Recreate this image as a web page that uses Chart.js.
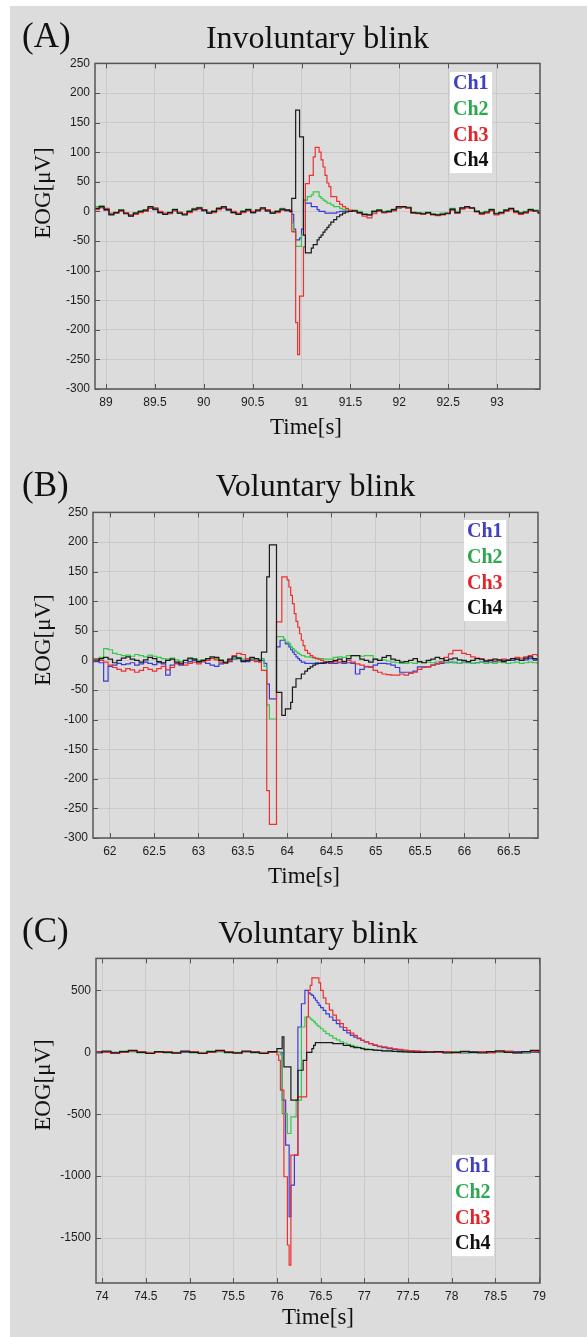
<!DOCTYPE html>
<html>
<head>
<meta charset="utf-8">
<script src="https://cdn.jsdelivr.net/npm/chart.js@4.4.0/dist/chart.umd.min.js"></script>
<style>
  html, body { margin: 0; padding: 0; background: #fff; }
  body { width: 587px; height: 1337px; position: relative; overflow: hidden; }
  #sheet { position: absolute; left: 10px; top: 6px; right: 0; bottom: 0; background: #dcdcdc; }
  canvas { position: absolute; left: 10px; }
</style>
</head>
<body>
<div id="sheet"></div>
<canvas id="chartA" width="577" height="443" style="top:6px"></canvas>
<canvas id="chartB" width="577" height="443" style="top:449px"></canvas>
<canvas id="chartC" width="577" height="445" style="top:892px"></canvas>
<script>
// channel names and colours
const channels = ["Ch1", "Ch2", "Ch3", "Ch4"];
const lineColors = ["#3a3ad8", "#35c94c", "#ee2f2f", "#1a1a1a"];
const legendColors = ["#4040c0", "#2ea84f", "#e0252b", "#111111"];

// (A) involuntary blink
const timeA = [88.88, 88.93, 88.98, 89.03, 89.08, 89.13, 89.18, 89.23, 89.28, 89.33, 89.38, 89.43, 89.48, 89.53, 89.58, 89.63, 89.68, 89.73, 89.78, 89.83, 89.88, 89.93, 89.98, 90.03, 90.08, 90.13, 90.18, 90.23, 90.28, 90.33, 90.38, 90.43, 90.48, 90.53, 90.58, 90.63, 90.68, 90.73, 90.78, 90.83, 90.88,
  90.90, 90.92, 90.94, 90.96, 90.98, 91.00, 91.02, 91.04, 91.06, 91.08, 91.10, 91.12, 91.14, 91.16, 91.18, 91.20, 91.22, 91.24, 91.26, 91.28, 91.30, 91.33, 91.36, 91.39, 91.42, 91.45, 91.48,
  91.52, 91.57, 91.62, 91.67, 91.72, 91.77, 91.82, 91.87, 91.92, 91.97, 92.02, 92.07, 92.12, 92.17, 92.22, 92.27, 92.32, 92.37, 92.42, 92.47, 92.52, 92.57, 92.62, 92.67, 92.72, 92.77, 92.82, 92.87, 92.92, 92.97, 93.02, 93.07, 93.12, 93.17, 93.22, 93.27, 93.32, 93.37, 93.42, 93.47];
const ch1A = [4, 7, 2, -5, -2, 1, -3, -7, -3, -1, 1, 6, 3, -2, -4, -2, 2, -3, -5, -1, 3, 5, 1, -3, -1, 4, 6, 2, -2, -4, -1, 2, -2, 1, 5, 1, -3, -1, 3, 1, -1,
  -5, -30, -48, -48, -45, -30, 19, 14, 14, 14, 8, 8, 8, 3, 0, 0, 0, -3, -3, -3, -3, -3, -1, 0, 0, 1, 0,
  0, -2, -5, -6, -1, 1, -2, -1, 2, 6, 7, 5, -2, -3, -4, -2, -5, -6, -4, -3, 3, -2, 5, 7, 5, 0, -3, -1, 2, -4, -2, 1, 4, 0, -3, -2, 2, 1, -2, 0];
const ch2A = [8, 10, 4, -3, -1, 3, -2, -6, -2, 1, 3, 7, 5, -1, -4, -1, 4, -2, -5, 1, 5, 7, 3, -2, 1, 6, 7, 4, -1, -4, 1, 4, -1, 3, 5, 2, -2, 1, 5, 3, 1,
  -20, -35, -59, -59, -59, -40, 19, 19, 25, 25, 28, 33, 33, 33, 25, 22, 19, 17, 14, 14, 11, 8, 8, 5, 3, 2, 0,
  2, 0, -4, -5, 1, 3, 0, 1, 4, 6, 7, 6, -1, -2, -3, -1, -4, -5, -3, -2, 5, 0, 6, 7, 5, 1, -2, 0, 4, -3, -1, 3, 4, 1, -2, 0, 4, 2, -1, 1];
const ch3A = [3, 6, 5, -4, -3, 0, -2, -6, -5, -2, 0, 5, 6, 0, -3, -4, 1, -1, -4, -2, 2, 4, 3, -1, -2, 3, 6, 4, 0, -3, -2, 1, 0, 1, 4, 3, -1, -2, 2, 3, 1,
  -34, -34, -188, -242, -143, -143, -60, 47, 47, 61, 61, 92, 108, 108, 100, 87, 75, 61, 48, 42, 25, 25, 17, 12, 8, 5, 2,
  0, -3, -8, -11, -4, 0, -2, -1, 1, 6, 7, 5, -3, -4, -5, -3, -6, -7, -6, -3, 2, -3, 4, 6, 5, -1, -5, -3, 1, -6, -4, 0, 3, -2, -5, -3, 1, 0, -3, -1];
const ch4A = [5, 8, 3, -6, -2, 2, -4, -8, -3, 0, 2, 8, 4, -2, -5, -2, 3, -3, -6, 0, 4, 6, 2, -3, 0, 5, 8, 3, -2, -5, 0, 3, -2, 2, 6, 1, -3, 0, 4, 2, 0,
  22, 22, 171, 171, 126, 126, -40, -70, -70, -70, -62, -56, -56, -48, -44, -40, -35, -31, -27, -23, -18, -14, -9, -6, -3, -1, 0,
  1, -2, -5, -6, 0, 2, -1, 0, 3, 8, 8, 7, -2, -3, -4, -2, -5, -6, -5, -4, 4, -2, 6, 8, 6, 0, -3, -1, 3, -4, -2, 2, 5, 0, -3, -1, 3, 1, -2, 0];
const xTicksA = [89, 89.5, 90, 90.5, 91, 91.5, 92, 92.5, 93];
const yTicksA = [250, 200, 150, 100, 50, 0, -50, -100, -150, -200, -250, -300];

// (B) voluntary blink
const timeB = [61.78, 61.83, 61.88, 61.93, 61.98, 62.03, 62.08, 62.13, 62.18, 62.23, 62.28, 62.33, 62.38, 62.43, 62.48, 62.53, 62.58, 62.63, 62.68, 62.73, 62.78, 62.83, 62.88, 62.93, 62.98, 63.03, 63.08, 63.13, 63.18, 63.23, 63.28, 63.33, 63.38, 63.43, 63.48, 63.53, 63.58, 63.63, 63.68,
  63.71, 63.74, 63.77, 63.80, 63.83, 63.86, 63.88, 63.90, 63.92, 63.94, 63.96, 63.98, 64.00, 64.02, 64.04, 64.06, 64.08, 64.10, 64.12, 64.14, 64.16, 64.18, 64.20, 64.23, 64.26, 64.29, 64.32, 64.35, 64.38, 64.41, 64.44, 64.47,
  64.52, 64.57, 64.62, 64.67, 64.72, 64.77, 64.82, 64.87, 64.92, 64.97, 65.02, 65.07, 65.12, 65.17, 65.22, 65.27, 65.32, 65.37, 65.42, 65.47, 65.52, 65.57, 65.62, 65.67, 65.72, 65.77, 65.82, 65.87, 65.92, 65.97, 66.02, 66.07, 66.12, 66.17, 66.22, 66.27, 66.32, 66.37, 66.42, 66.47, 66.52, 66.57, 66.62, 66.67, 66.72, 66.77, 66.82, 66.87];
const ch1B = [-2, -2, -4, -35, -10, -8, -5, -7, -6, -4, -8, -6, -3, -5, -7, -4, -6, -25, -8, -5, -8, -4, -2, 0, -3, -2, -5, -8, -10, -6, -4, -2, 2, 3, 0, -2, 1, 0, -2,
  0, -5, -40, -65, -65, -65, 23, 23, 34, 34, 34, 28, 28, 23, 18, 14, 10, 6, 3, 0, -3, -3, -5, -5, -5, -5, -4, -5, -4, -5, -4, -5,
  -5, -4, -5, -4, -5, -23, -15, -11, -11, -8, -5, -5, -6, -8, -12, -20, -20, -20, -18, -11, -11, -11, -8, -6, -5, -4, -3, -4, -5, -3, -4, -5, -4, -3, -2, -3, -2, -1, 0, 1, 0, 2, 0, 1, 3, 2, 0, 1];
const ch2B = [3, 3, 5, 20, 18, 12, 10, 8, 9, 7, 10, 8, 6, 9, 7, 5, 3, 2, 4, 1, -2, 0, 2, 3, 0, 1, 2, 4, 3, 1, -2, 0, 3, 5, 2, 0, 3, 1, 0,
  3, -10, -75, -99, -99, -99, 40, 40, 40, 40, 36, 31, 31, 28, 23, 20, 17, 14, 12, 10, 8, 8, 6, 6, 5, 4, 4, 3, 3, 2, 2, 2,
  5, 6, 5, 8, 8, 8, 7, 8, 8, 2, 0, 1, -1, -3, -4, -5, -5, -4, -5, -3, -4, -3, -4, -3, -2, -3, -4, -3, -5, -4, -3, -5, -4, -3, -5, -4, -5, -3, -4, -5, -4, -3, -5, -4, -3, -4, -5, -3];
const ch3B = [2, 2, 0, -3, -8, -12, -15, -18, -14, -16, -20, -17, -12, -15, -18, -14, -10, -16, -12, -6, -4, -8, -5, -3, -6, -2, 0, 3, 1, -3, -5, 0, 8, 12, 10, 3, 0, -2, -3,
  -17, -17, -220, -277, -277, -277, 65, 65, 65, 141, 141, 141, 136, 124, 110, 96, 79, 66, 56, 45, 34, 25, 17, 12, 8, 5, 3, 2, 0, -2, -3, -4,
  -2, -3, -2, 0, -3, -6, -8, -10, -12, -17, -20, -23, -24, -25, -25, -23, -25, -22, -20, -15, -12, -11, -8, -6, -3, 5, 11, 17, 17, 12, 10, 6, 4, 2, 0, 1, -1, 0, 2, 0, 3, 5, 4, 6, 8, 10, 8, 10];
const ch4B = [0, 0, 3, 5, 2, -4, 0, 4, 6, 2, 0, -3, 1, 5, 3, -2, -4, 0, 2, -3, -6, 0, 4, 2, -2, 0, 3, 6, 5, 0, -4, 2, 6, 4, -2, 0, 5, 3, 0,
  14, 14, 141, 195, 195, 195, -54, -54, -54, -93, -93, -82, -82, -82, -71, -45, -45, -31, -31, -31, -23, -23, -18, -14, -11, -8, -6, -5, -5, -4, -3, -2,
  0, 2, -2, 3, 8, 8, 2, 0, -3, 2, 0, 5, 8, 2, 0, -3, -2, 0, 3, -2, -4, 0, 2, 5, 3, 0, 2, 4, 1, 0, -2, 0, 3, 2, -1, 0, 2, 1, -2, 0, 3, 2, 0, 4, 6, 3, 2, 5];
const xTicksB = [62, 62.5, 63, 63.5, 64, 64.5, 65, 65.5, 66, 66.5];
const yTicksB = [250, 200, 150, 100, 50, 0, -50, -100, -150, -200, -250, -300];

// (C) voluntary blink, larger amplitude
const timeC = [73.90, 74.00, 74.10, 74.20, 74.30, 74.40, 74.50, 74.60, 74.70, 74.80, 74.90, 75.00, 75.10, 75.20, 75.30, 75.40, 75.50, 75.60, 75.70, 75.80, 75.90,
  76.00, 76.02, 76.04, 76.06, 76.08, 76.10, 76.12, 76.14, 76.16, 76.18, 76.20, 76.22, 76.24, 76.26, 76.28, 76.30, 76.32, 76.34, 76.36, 76.38, 76.40, 76.42, 76.44, 76.46, 76.48, 76.50, 76.53, 76.56, 76.60, 76.64, 76.68, 76.72, 76.76, 76.80, 76.84, 76.88, 76.92, 76.96, 77.00, 77.05, 77.10, 77.15, 77.20, 77.26, 77.32, 77.38, 77.44, 77.50, 77.57, 77.64,
  77.70, 77.80, 77.90, 78.00, 78.10, 78.20, 78.30, 78.40, 78.50, 78.60, 78.70, 78.80, 78.90, 79.00, 79.10];
const ch1C = [-5, 5, 0, 5, 10, 0, -5, 0, 5, -5, 0, 5, -5, 0, 10, 0, -5, 5, 0, -5, 0,
  0, 0, 0, -387, -387, -750, -750, -1328, -1072, -1072, -830, -830, 204, 204, 392, 392, 500, 500, 480, 470, 460, 440, 420, 400, 379, 360, 339, 310, 285, 258, 231, 204, 177, 157, 137, 122, 110, 96, 83, 70, 56, 46, 38, 30, 24, 18, 11, 8, 5, 3,
  3, 0, 5, 0, -5, 5, 0, 0, 5, 0, 5, -5, 0, 5, 0];
const ch2C = [0, 5, -5, 10, 5, -5, 0, 5, -5, 0, 5, -5, 0, 10, 5, -5, 0, 5, -5, 0, 5,
  0, 0, -20, -495, -495, -495, -656, -656, -521, -521, -521, -387, -387, -387, 204, 204, 285, 285, 285, 270, 258, 245, 230, 215, 204, 190, 170, 150, 135, 115, 100, 85, 75, 65, 56, 48, 40, 34, 30, 24, 18, 15, 12, 9, 7, 5, 3, 2, 0, 0,
  0, 5, 0, 5, 0, -5, 0, 5, 0, 5, -5, 0, 5, 0, 0];
const ch3C = [5, 0, -10, 0, 10, 5, -5, 0, 5, -10, 5, 5, -5, 0, 10, 5, -10, 5, 5, -5, 0,
  -20, -65, -306, -306, -1005, -1005, -1556, -1718, -830, -830, -830, -830, -360, -360, -360, -360, -360, 285, 500, 540, 600, 600, 600, 600, 560, 500, 440, 392, 340, 300, 260, 231, 200, 177, 155, 137, 115, 97, 84, 70, 60, 50, 43, 35, 28, 24, 18, 14, 11, 8,
  5, 0, 5, -5, 5, 0, 5, -5, 5, 10, 0, 5, 5, -5, 0];
const ch4C = [0, 10, -5, 5, 15, 0, -10, 5, 0, -5, 10, 0, -10, 5, 15, 0, -5, 10, 0, -10, 5,
  30, 30, 30, 124, -118, -118, -118, -118, -387, -387, -387, -387, -145, -145, -145, -65, -65, 0, 0, 0, 30, 56, 78, 78, 78, 78, 78, 78, 78, 70, 70, 70, 56, 56, 45, 38, 38, 30, 22, 22, 18, 15, 11, 11, 8, 5, 3, 2, 0, 0,
  2, 5, -5, 0, 8, 0, -5, 5, 12, 0, -5, 5, 15, 0, 0];
const xTicksC = [74, 74.5, 75, 75.5, 76, 76.5, 77, 77.5, 78, 78.5, 79];
const yTicksC = [500, 0, -500, -1000, -1500];

// box, inward ticks, panel tag, axis titles and the in-plot legend
const panelDecor = {
  id: "panelDecor",
  afterDraw(chart, args, o) {
    const { ctx, chartArea: a, scales: { x, y } } = chart;
    ctx.save();
    ctx.strokeStyle = "#555";
    ctx.lineWidth = 1;
    ctx.beginPath();
    x.ticks.forEach(t => {
      const px = Math.round(x.getPixelForValue(t.value)) + 0.5;
      ctx.moveTo(px, a.top); ctx.lineTo(px, a.top + 5);
      ctx.moveTo(px, a.bottom); ctx.lineTo(px, a.bottom - 5);
    });
    y.ticks.forEach(t => {
      const py = Math.round(y.getPixelForValue(t.value)) + 0.5;
      ctx.moveTo(a.left, py); ctx.lineTo(a.left + 5, py);
      ctx.moveTo(a.right, py); ctx.lineTo(a.right - 5, py);
    });
    ctx.stroke();
    ctx.lineWidth = 1.5;
    ctx.strokeRect(a.left, a.top, a.right - a.left, a.bottom - a.top);

    // legend
    ctx.font = "bold 20px 'Liberation Serif'";
    ctx.textAlign = "left";
    ctx.textBaseline = "middle";
    ctx.fillStyle = "#fff";
    ctx.fillRect(o.legendX - 3, o.legendY - 12, 42, 25.7 * 3 + 24);
    chart.data.datasets.forEach((ds, i) => {
      ctx.fillStyle = ds.legendColor;
      ctx.fillText(ds.label, o.legendX, o.legendY + i * 25.7);
    });

    // panel tag
    ctx.fillStyle = "#111";
    ctx.font = "35px 'Liberation Serif'";
    ctx.textBaseline = "alphabetic";
    ctx.fillText(o.tag, o.tagX, o.tagY);

    // x axis title
    ctx.font = "23px 'Liberation Serif'";
    ctx.textAlign = "center";
    ctx.textBaseline = "middle";
    ctx.fillText("Time[s]", o.xTitleX, a.bottom + o.xTitleDy);

    // y axis title
    ctx.translate(o.yTitleX, o.yTitleY);
    ctx.rotate(-Math.PI / 2);
    ctx.fillText("EOG[\u03bcV]", 0, 0);
    ctx.restore();
  }
};

function makePanel(canvasId, p, time, series, xTicks, yTicks) {
  const W = 577, H = p.canvasH;
  const left = p.plot.left - 10, right = p.plot.right - 10;
  const top = p.plot.top - p.canvasTop, bottom = p.plot.bottom - p.canvasTop;
  const xAxisH = p.timeOffset + 14;
  const tickFont = { family: "'Liberation Sans', Arial", size: 12 };

  const datasets = series.map((vals, i) => ({
    label: channels[i],
    legendColor: legendColors[i],
    data: time.map((t, k) => ({ x: t, y: vals[k] })),
    borderColor: lineColors[i],
    borderWidth: 1.2,
    pointRadius: 0,
    stepped: true,
    fill: false,
    order: 4 - i
  }));

  return new Chart(document.getElementById(canvasId), {
    type: "line",
    data: { datasets },
    plugins: [panelDecor],
    options: {
      responsive: false,
      animation: false,
      events: [],
      layout: { padding: { left: 0, top: 0, right: W - right, bottom: H - bottom - xAxisH } },
      scales: {
        x: {
          type: "linear",
          min: p.xRange[0],
          max: p.xRange[1],
          afterBuildTicks: s => { s.ticks = xTicks.map(v => ({ value: v })); },
          afterFit: s => { s.height = xAxisH; },
          grid: { color: "#cacaca", lineWidth: 1, drawTicks: false },
          border: { display: false },
          ticks: { font: tickFont, color: "#1c1c1c", padding: 6, maxRotation: 0, autoSkip: false, callback: v => String(v) }
        },
        y: {
          type: "linear",
          min: p.yRange[0],
          max: p.yRange[1],
          afterBuildTicks: s => { s.ticks = yTicks.map(v => ({ value: v })); },
          afterFit: s => { s.width = left; },
          grid: { color: "#cacaca", lineWidth: 1, drawTicks: false },
          border: { display: false },
          ticks: { font: tickFont, color: "#1c1c1c", padding: 5, callback: v => String(v) }
        }
      },
      plugins: {
        legend: { display: false },
        tooltip: { enabled: false },
        title: {
          display: true,
          text: p.title,
          fullSize: false,
          color: "#111",
          font: { family: "'Liberation Serif'", size: 32, weight: "normal", lineHeight: 1.2 },
          padding: { top: top - p.titleGap - 19, bottom: p.titleGap - 19 }
        },
        panelDecor: {
          tag: p.tag,
          tagX: 22 - 10,
          tagY: p.plot.top - 16 - p.canvasTop,
          legendX: p.legendX - 10,
          legendY: p.legendTop - p.canvasTop,
          xTitleX: p.xTitleX - 10,
          xTitleDy: p.timeOffset,
          yTitleX: 44 - 10,
          yTitleY: p.yTitleY - p.canvasTop
        }
      }
    }
  });
}

makePanel("chartA", {
  canvasTop: 6, canvasH: 443, tag: "(A)", title: "Involuntary blink",
  plot: { left: 95, top: 63, right: 540, bottom: 389 },
  xRange: [88.887, 93.44], yRange: [-300, 250],
  titleGap: 24, timeOffset: 39, xTitleX: 306, legendX: 453, legendTop: 84, yTitleY: 193
}, timeA, [ch1A, ch2A, ch3A, ch4A], xTicksA, yTicksA);

makePanel("chartB", {
  canvasTop: 449, canvasH: 443, tag: "(B)", title: "Voluntary blink",
  plot: { left: 93, top: 512, right: 538, bottom: 838 },
  xRange: [61.81, 66.83], yRange: [-300, 250],
  titleGap: 25, timeOffset: 39, xTitleX: 304, legendX: 467, legendTop: 532, yTitleY: 640
}, timeB, [ch1B, ch2B, ch3B, ch4B], xTicksB, yTicksB);

makePanel("chartC", {
  canvasTop: 892, canvasH: 445, tag: "(C)", title: "Voluntary blink",
  plot: { left: 96, top: 958, right: 540, bottom: 1283 },
  xRange: [73.93, 79.01], yRange: [-1863, 758],
  titleGap: 24, timeOffset: 35, xTitleX: 318, legendX: 455, legendTop: 1167, yTitleY: 1085
}, timeC, [ch1C, ch2C, ch3C, ch4C], xTicksC, yTicksC);
</script>
</body>
</html>
